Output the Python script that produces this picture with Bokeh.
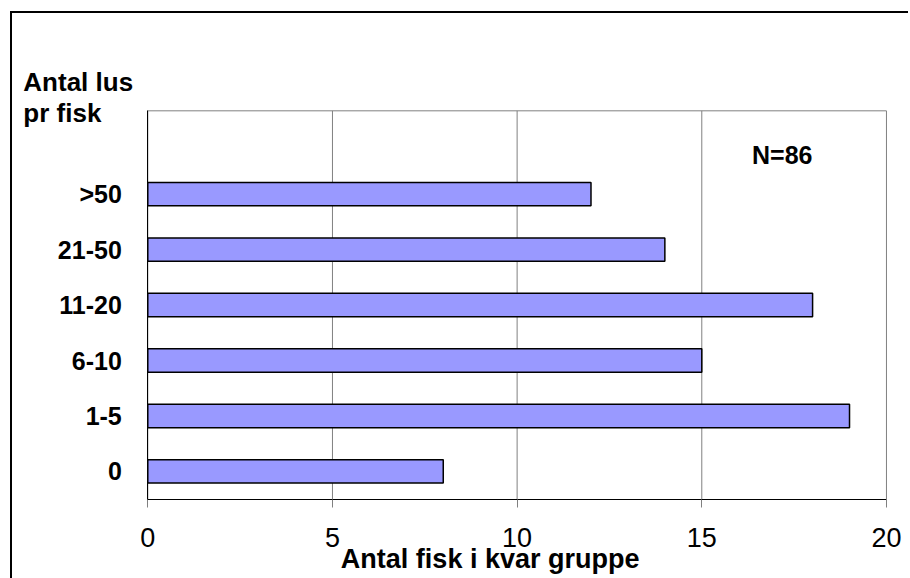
from bokeh.plotting import figure
from bokeh.models import FixedTicker, Label, ColumnDataSource, Range1d
from bokeh.embed import file_html
from bokeh.resources import INLINE

# Data
categories = ["0", "1-5", "6-10", "11-20", "21-50", ">50"]
counts = [8, 19, 15, 18, 14, 12]
x_ticks = [0, 5, 10, 15, 20]
positions = list(range(len(categories)))

FONT = "Liberation Sans"

# plot-area extent in data units (one empty category slot on top)
x_lo, x_hi = x_ticks[0], x_ticks[-1]
y_lo, y_hi = positions[0] - 0.5, positions[-1] + 1.5

src = ColumnDataSource(data=dict(y=positions, right=counts, cat=categories))

p = figure(width=898, height=567,
           x_range=Range1d(-3.663, 20.651), y_range=Range1d(-1.965, 8.254),
           output_backend="svg", toolbar_location=None,
           min_border=0, min_border_left=0, min_border_right=0,
           min_border_top=0, min_border_bottom=0)
p.margin = (11, 0, 0, 10)
p.styles = {"border-left": "2px solid black", "border-top": "2px solid black"}
p.outline_line_color = None
p.xgrid.visible = False
p.ygrid.visible = False

# gridlines and plot-area border
p.segment(x0=x_ticks, x1=x_ticks, y0=y_lo, y1=y_hi, line_color="#808080", line_width=1)
p.segment(x0=[x_lo], x1=[x_hi], y0=[y_hi], y1=[y_hi], line_color="#808080", line_width=1)

p.hbar(y="y", right="right", left=0, height=0.42, source=src,
       fill_color="#9999FF", line_color="black", line_width=1.5)

xa = p.xaxis[0]
xa.fixed_location = y_lo
xa.bounds = (x_lo, x_hi)
xa.ticker = FixedTicker(ticks=x_ticks)
xa.axis_line_color = "black"
xa.major_tick_out = 8
xa.major_tick_in = 0
xa.minor_tick_out = 0
xa.minor_tick_in = 0
xa.major_tick_line_color = "#808080"
xa.major_label_text_font = FONT
xa.major_label_text_font_size = "27px"
xa.major_label_text_color = "black"
xa.major_label_standoff = 21

ya = p.yaxis[0]
ya.fixed_location = x_lo
ya.bounds = (y_lo, y_hi)
ya.ticker = FixedTicker(ticks=positions)
ya.major_label_overrides = {i: c for i, c in zip(positions, categories)}
ya.axis_line_color = "black"
ya.major_tick_out = 0
ya.major_tick_in = 0
ya.minor_tick_out = 0
ya.minor_tick_in = 0
ya.major_label_text_font = FONT
ya.major_label_text_font_size = "25px"
ya.major_label_text_font_style = "bold"
ya.major_label_text_color = "black"
ya.major_label_standoff = 26

def lab(x, y, text, size, align="left"):
    p.add_layout(Label(x=x, y=y, text=text, text_font=FONT, text_font_size=size,
                       text_font_style="bold", text_color="black",
                       text_align=align, text_baseline="alphabetic"))

lab(-3.37, 7.024, "Antal lus", "26px")
lab(-3.37, 6.464, "pr fisk", "26px")
lab(16.36, 5.704, "N=86", "25px")
lab(9.27, -1.585, "Antal fisk i kvar gruppe", "27px", align="center")

open("out.html", "w").write(file_html(p, INLINE))
